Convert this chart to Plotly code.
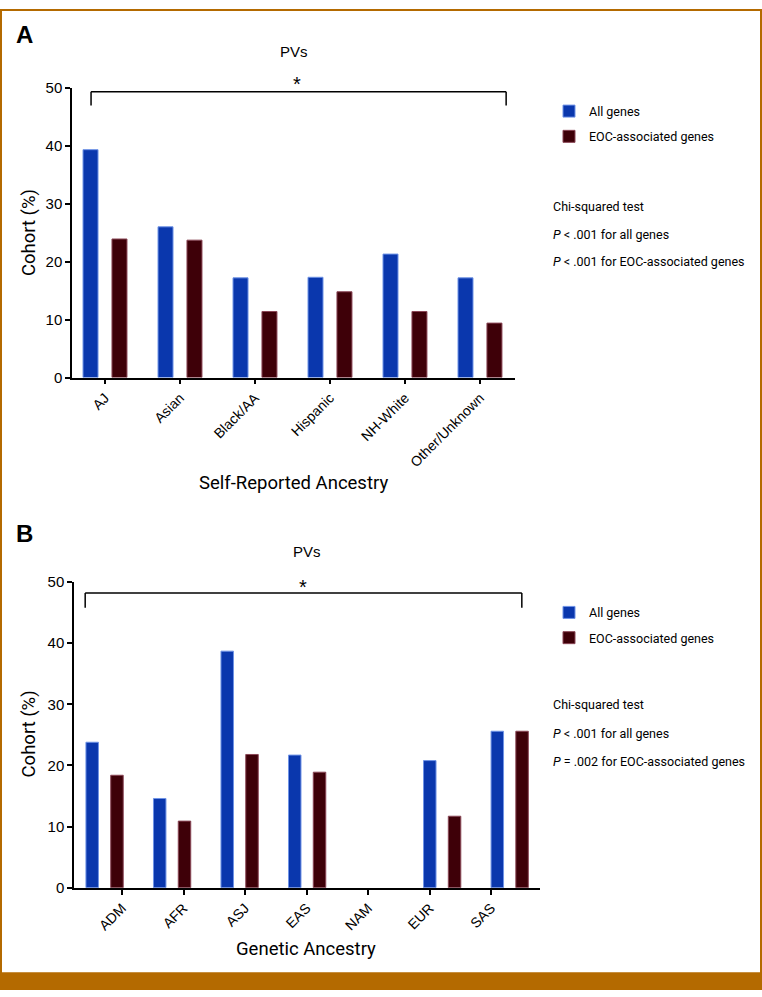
import plotly.graph_objects as go

W, H = 762, 997

# ---------------- data ----------------
cats_a = ["AJ", "Asian", "Black/AA", "Hispanic", "NH-White", "Other/Unknown"]
all_genes_a = [39.3, 26.0, 17.2, 17.3, 21.3, 17.2]
eoc_genes_a = [23.9, 23.7, 11.4, 14.8, 11.4, 9.4]

cats_b = ["ADM", "AFR", "ASJ", "EAS", "NAM", "EUR", "SAS"]
all_genes_b = [23.8, 14.6, 38.7, 21.7, 0, 20.8, 25.6]
eoc_genes_b = [18.4, 10.9, 21.8, 18.9, 0, 11.7, 25.6]

y_ticks = [0, 10, 20, 30, 40, 50]
series_names = ["All genes", "EOC-associated genes"]

# ---------------- style ----------------
BLUE, BLUE_EDGE = "#0a37ad", "#6f93e6"
MAROON, MAROON_EDGE = "#3e0008", "#8a4656"
ORANGE = "#b46a00"
SANS = "Liberation Sans, Arial, sans-serif"
TITLE = "Roboto, Liberation Sans, sans-serif"


def px(x):
    return x / W


def py(y):
    return 1 - y / H


def edge_widths(vals):
    return [0 if v == 0 else 1 for v in vals]


fig = go.Figure()

# Panel A bars
fig.add_bar(x=cats_a, y=all_genes_a, name=series_names[0], xaxis="x", yaxis="y",
            width=0.2, offset=-0.293,
            marker=dict(color=BLUE, line=dict(color=BLUE_EDGE, width=edge_widths(all_genes_a))),
            legend="legend", legendgroup="a1")
fig.add_bar(x=cats_a, y=eoc_genes_a, name=series_names[1], xaxis="x", yaxis="y",
            width=0.2, offset=0.093,
            marker=dict(color=MAROON, line=dict(color=MAROON_EDGE, width=edge_widths(eoc_genes_a))),
            legend="legend", legendgroup="a2")

# Panel B bars
fig.add_bar(x=cats_b, y=all_genes_b, name=series_names[0], xaxis="x2", yaxis="y2",
            width=0.185, offset=-0.275,
            marker=dict(color=BLUE, line=dict(color=BLUE_EDGE, width=edge_widths(all_genes_b))),
            legend="legend2", legendgroup="b1")
fig.add_bar(x=cats_b, y=eoc_genes_b, name=series_names[1], xaxis="x2", yaxis="y2",
            width=0.185, offset=0.092,
            marker=dict(color=MAROON, line=dict(color=MAROON_EDGE, width=edge_widths(eoc_genes_b))),
            legend="legend2", legendgroup="b2")

axis_common = dict(showline=True, linecolor="black", linewidth=1.5, ticks="outside",
                   ticklen=5, tickwidth=1.5, tickcolor="black", showgrid=False, zeroline=False)

# tick positions of panel B (drawn slightly offset from the bar groups, as in the original)
b_tickvals = [0.26 + 0.911 * i for i in range(len(cats_b))]

legend_common = dict(xanchor="left", yanchor="top", font=dict(size=12.5, family=TITLE),
                     tracegroupgap=6, bgcolor="rgba(0,0,0,0)", traceorder="grouped")

fig.update_layout(
    width=W, height=H,
    margin=dict(l=0, r=0, t=0, b=0),
    paper_bgcolor="white", plot_bgcolor="white",
    barmode="overlay",
    font=dict(family=SANS, color="black"),
    xaxis=dict(domain=[px(72), px(515)], anchor="y", type="category",
               range=[-0.44, 5.467], tickangle=-45,
               tickfont=dict(size=14, family=SANS), **axis_common),
    yaxis=dict(domain=[py(375), py(80)], anchor="x", range=[0, 50],
               tickmode="array", tickvals=y_ticks,
               tickfont=dict(size=15, family=SANS), **axis_common),
    xaxis2=dict(domain=[px(74), px(540)], anchor="y2", type="category",
                range=[-0.452, 6.45], tickangle=-45,
                tickmode="array", tickvals=b_tickvals, ticktext=cats_b,
                tickfont=dict(size=14, family=SANS), **axis_common),
    yaxis2=dict(domain=[py(894), py(583)], anchor="x2", range=[0, 50],
                tickmode="array", tickvals=y_ticks,
                tickfont=dict(size=15, family=SANS), **axis_common),
    legend=dict(x=px(549), y=py(89), **legend_common),
    legend2=dict(x=px(549), y=py(599), **legend_common),
)

annotations = []
def ann(text, x, y, size=12.5, family=TITLE, xanchor="left", yanchor="middle", angle=0):
    annotations.append(dict(text=text, x=px(x), y=py(y), xref="paper", yref="paper",
                            showarrow=False, xanchor=xanchor, yanchor=yanchor,
                            textangle=angle, font=dict(size=size, family=family, color="black")))

# panel letters
ann("<b>A</b>", 14, 26, size=24, family=SANS)
ann("<b>B</b>", 14, 534, size=24, family=SANS)
# titles
ann("PVs", 294, 43, size=15, family=SANS, xanchor="center")
ann("PVs", 307, 552, size=15, family=SANS, xanchor="center")
# asterisks
ann("*", 297, 76, size=20, family=SANS, xanchor="center")
ann("*", 303, 588, size=20, family=SANS, xanchor="center")
# axis titles
ann("Cohort (%)", 29, 228, size=18.5, xanchor="center", angle=-90)
ann("Cohort (%)", 29, 738, size=18.5, xanchor="center", angle=-90)
ann("Self-Reported Ancestry", 293, 482, size=18.5, xanchor="center")
ann("Genetic Ancestry", 306, 956, size=18.5, xanchor="center")
# statistics
ann("Chi-squared test", 551, 201)
ann("<i>P</i> < .001 for all genes", 551, 229)
ann("<i>P</i> < .001 for EOC-associated genes", 551, 257)
ann("Chi-squared test", 551, 708)
ann("<i>P</i> < .001 for all genes", 551, 737)
ann("<i>P</i> = .002 for EOC-associated genes", 551, 766)

fig.update_layout(annotations=annotations)

shapes = []
def bracket(xref, yref, x0, x1, ytop, ybot):
    line = dict(color="black", width=1.5)
    shapes.append(dict(type="line", xref=xref, yref=yref, x0=x0, x1=x1, y0=ytop, y1=ytop, line=line))
    shapes.append(dict(type="line", xref=xref, yref=yref, x0=x0, x1=x0, y0=ytop, y1=ybot, line=line))
    shapes.append(dict(type="line", xref=xref, yref=yref, x0=x1, x1=x1, y0=ytop, y1=ybot, line=line))

bracket("x domain", "y", 0.043, 0.98, 49.3, 46.9)
bracket("x2 domain", "y2", 0.024, 0.961, 48.2, 45.8)

# frame and bottom band
shapes.append(dict(type="rect", xref="paper", yref="paper", x0=px(1), x1=px(W - 1),
                   y0=0, y1=py(1), line=dict(color=ORANGE, width=2)))
shapes.append(dict(type="rect", xref="paper", yref="paper", x0=0, x1=1,
                   y0=0, y1=py(980), fillcolor=ORANGE, line=dict(width=0)))
fig.update_layout(shapes=shapes)

fig.write_html(
    "out.html",
    config={"displayModeBar": False},
    post_script=("document.documentElement.style.margin='0';"
                 "document.body.style.margin='0';document.body.style.padding='0';"
                 "document.documentElement.style.overflow='hidden';"
                 "var gd=document.getElementById('{plot_id}');"
                 "gd.style.position='fixed';gd.style.top='0px';gd.style.left='0px';"),
)
